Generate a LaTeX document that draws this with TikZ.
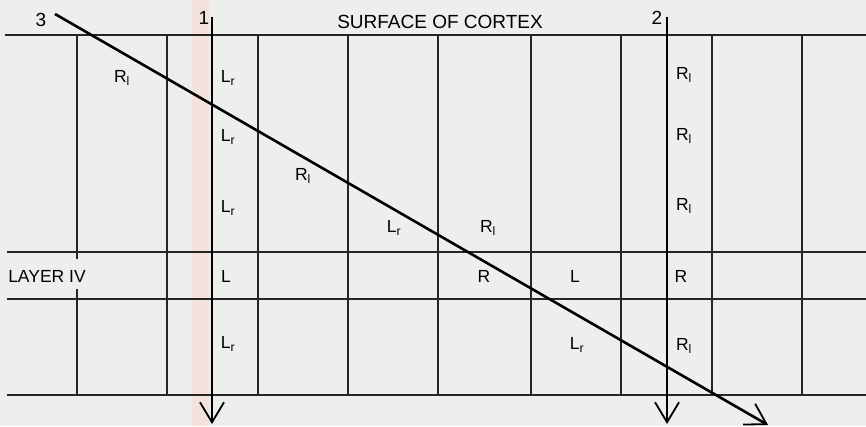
\documentclass[tikz,border=0pt]{standalone}
\usepackage{fontspec}
\setmainfont{Liberation Sans}
\usetikzlibrary{arrows.meta}
\definecolor{paper}{RGB}{238,238,236}
\definecolor{stain}{RGB}{244,226,222}
\tikzstyle{grid} = [line width=1.1pt, black!85]
\tikzstyle{probe} = [line width=2.6pt, -{Straight Barb[length=20pt,width=24pt,line width=1.8pt]}]
\tikzstyle{cell} = [inner sep=0pt, font=\fontsize{17.5}{20}\selectfont]
\tikzstyle{tag} = [inner sep=0pt, font=\fontsize{19}{21}\selectfont]

\begin{document}
\begin{tikzpicture}[x=1pt,y=-1pt]
\useasboundingbox (0,0) rectangle (866,426);
\fill[paper] (0,0) rectangle (866,426);
\fill[stain] (192,0) rectangle (210,426);

% layers
\draw[grid] (5,35) -- (866,35);
\draw[grid] (7,252) -- (866,252);
\draw[grid] (7,299) -- (866,299);
\draw[grid] (7,395) -- (866,395);

% columns
\draw[grid] (77,35) -- (77,259);
\draw[grid] (77,289) -- (77,395);
\draw[grid] (167,35) -- (167,395);
\draw[grid] (258,35) -- (258,395);
\draw[grid] (348,35) -- (348,395);
\draw[grid] (438,35) -- (438,395);
\draw[grid] (531,35) -- (531,395);
\draw[grid] (621,35) -- (621,395);
\draw[grid] (712,35) -- (712,395);
\draw[grid] (802,35) -- (802,395);

\draw(440,22) node[tag] (surf) {SURFACE OF CORTEX};
\draw(47,276) node[cell] (layer) {LAYER IV};

% electrode tracks
\coordinate (t1) at (212,17);
\coordinate (b1) at (212,424);
\coordinate (t2) at (667,17);
\coordinate (b2) at (667,424);
\coordinate (t3) at (55,14);
\coordinate (b3) at (768,425);
\draw[probe] (t1) -- (b1);
\draw[probe] (t2) -- (b2);
\draw[probe] (t3) -- (b3);
\draw(204,18) node[tag] (n1) {1};
\draw(657,18) node[tag] (n2) {2};
\draw(41,20) node[tag] (n3) {3};

% track 1
\draw(228,78) node[cell] (a1) {L\textsubscript{r}};
\draw(228,137) node[cell] (a2) {L\textsubscript{r}};
\draw(228,208) node[cell] (a3) {L\textsubscript{r}};
\draw(226,276) node[cell] (a4) {L};
\draw(228,344) node[cell] (a5) {L\textsubscript{r}};

% track 2
\draw(684,75) node[cell] (c1) {R\textsubscript{l}};
\draw(684,136) node[cell] (c2) {R\textsubscript{l}};
\draw(684,206) node[cell] (c3) {R\textsubscript{l}};
\draw(681,276) node[cell] (c4) {R};
\draw(684,346) node[cell] (c5) {R\textsubscript{l}};

% track 3
\draw(122,78) node[cell] (d1) {R\textsubscript{l}};
\draw(303,176) node[cell] (d2) {R\textsubscript{l}};
\draw(394,228) node[cell] (d3) {L\textsubscript{r}};
\draw(488,228) node[cell] (d4) {R\textsubscript{l}};
\draw(484,276) node[cell] (d5) {R};
\draw(575,276) node[cell] (d6) {L};
\draw(577,345) node[cell] (d7) {L\textsubscript{r}};

\end{tikzpicture}
\end{document}
